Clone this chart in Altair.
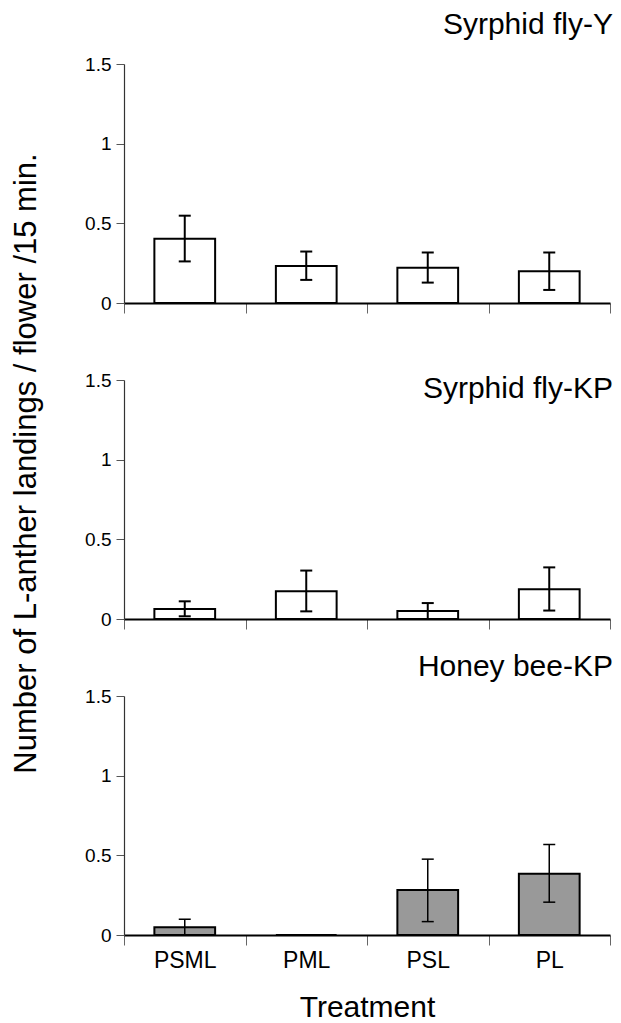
import altair as alt
import pandas as pd

categories = ["PSML", "PML", "PSL", "PL"]

y_mean = [0.404, 0.233, 0.222, 0.200]
y_lo = [0.261, 0.145, 0.128, 0.082]
y_hi = [0.548, 0.323, 0.317, 0.317]

kp_mean = [0.063, 0.174, 0.050, 0.186]
kp_lo = [0.017, 0.048, 0.000, 0.053]
kp_hi = [0.111, 0.304, 0.100, 0.324]

hb_mean = [0.048, 0.0, 0.283, 0.384]
hb_lo = [0.000, None, 0.084, 0.206]
hb_hi = [0.099, None, 0.476, 0.568]

titles = ["Syrphid fly-Y", "Syrphid fly-KP", "Honey bee-KP"]
y_title = "Number of L-anther landings / flower /15 min."
x_title = "Treatment"

FONT = "Liberation Sans"
W, H = 486, 239


def panel(mean, lo, hi, title, title_y, fill, err_w, bottom, ytitle):
    df = pd.DataFrame({"t": categories, "m": mean, "lo": lo, "hi": hi})
    scale_x = alt.Scale(domain=categories, paddingInner=0, paddingOuter=0)
    scale_y = alt.Scale(domain=[0, 1.5], nice=False)

    x_axis_kw = dict(
        domainColor="black", domainWidth=2, tickBand="extent", tickSize=10,
        tickColor="#666666", tickWidth=1, labels=bottom, labelFontSize=23,
        labelFont=FONT, labelColor="black", labelPadding=4, labelAngle=0,
        grid=False,
    )
    if bottom:
        x_axis_kw.update(title=x_title, titleFontSize=30, titleFont=FONT,
                         titleFontWeight="normal", titleColor="black",
                         titleY=81, titleBaseline="alphabetic")
    else:
        x_axis_kw.update(title=None)

    y_axis_kw = dict(
        values=[0, 0.5, 1, 1.5], format="~g", domainColor="#333333",
        domainWidth=1.2, tickColor="#555555", tickSize=8, tickWidth=1,
        labelFontSize=19, labelFont=FONT, labelColor="black", labelPadding=5,
        grid=False,
    )
    if ytitle:
        y_axis_kw.update(title=y_title, titleFontSize=31, titleFont=FONT,
                         titleFontWeight="normal", titleColor="black",
                         titleX=-88.5, titleY=83, titleBaseline="alphabetic")
    else:
        y_axis_kw.update(title=None)

    def xe():
        return alt.X("t:N", sort=categories, scale=scale_x, axis=alt.Axis(**x_axis_kw))

    def ye(field):
        return alt.Y(field, scale=scale_y, axis=alt.Axis(**y_axis_kw))

    bars = alt.Chart(df).mark_bar(
        width=alt.RelativeBandSize(0.5), fill=fill, stroke="black", strokeWidth=2
    ).encode(x=xe(), y=ye("m:Q"))

    err_base = alt.Chart(df).transform_filter("datum.hi != null")
    rules = err_base.mark_rule(color="black", strokeWidth=err_w).encode(
        x=xe(), y=ye("lo:Q"), y2="hi:Q",
    )
    cap_hi = err_base.mark_tick(orient="horizontal", size=12, thickness=err_w,
                                color="black", opacity=1).encode(x=xe(), y=ye("hi:Q"))
    cap_lo = err_base.mark_tick(orient="horizontal", size=12, thickness=err_w,
                                color="black", opacity=1).encode(x=xe(), y=ye("lo:Q"))

    label = alt.Chart(pd.DataFrame({"t": [title]})).mark_text(
        align="right", baseline="alphabetic", fontSize=30, font=FONT, color="black"
    ).encode(x=alt.value(W + 3), y=alt.value(title_y), text="t:N")

    return alt.layer(bars, rules, cap_hi, cap_lo, label).properties(width=W, height=H)


p1 = panel(y_mean, y_lo, y_hi, titles[0], -30, "white", 2, False, False)
p2 = panel(kp_mean, kp_lo, kp_hi, titles[1], 18, "white", 2, False, True)
p3 = panel(hb_mean, hb_lo, hb_hi, titles[2], -20, "#999999", 1.5, True, False)

chart = alt.vconcat(p1, p2, p3, spacing=77, bounds="flush").properties(
    padding={"left": 2, "top": 2, "right": 0, "bottom": 0}
).configure_view(stroke=None)

chart.save("out.html", embed_options={"renderer": "svg", "actions": False})
